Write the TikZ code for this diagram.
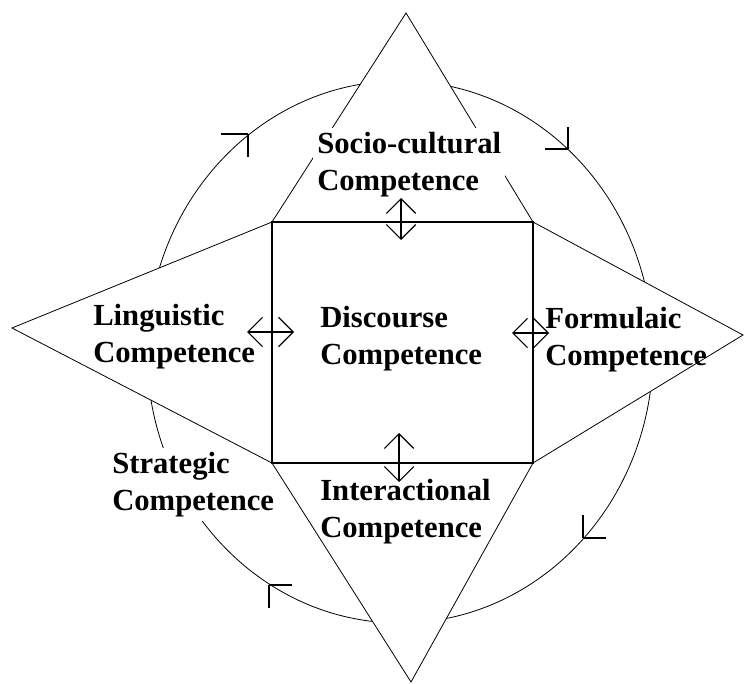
\documentclass[tikz,border=0pt]{standalone}
\usepackage{fontspec}
\setmainfont{Liberation Serif}
\usetikzlibrary{arrows.meta}
\begin{document}
\begin{tikzpicture}[x=0.75pt,y=-0.75pt,
  comp/.style={font=\bfseries\fontsize{23}{27.75}\selectfont,align=left,anchor=north west,inner sep=0},
  covered/.style={comp,fill=white,inner sep=3pt},
  twoway/.style={line width=0.8pt,{Straight Barb[length=11pt,width=22pt]}-{Straight Barb[length=11pt,width=22pt]}}]
\useasboundingbox (0,0) rectangle (745,684);
% circle with its four heads
\draw[line width=0.6pt] (400,352) ellipse [x radius=189.75pt,y radius=203.25pt];
\foreach \x/\y/\a/\b in {248/134/-27/23,568/149/-23/-22,583/538/23/-23,269/585/23/23}
  \draw[line width=1.1pt] (\x,\y) -- ++(\a,0) (\x,\y) -- ++(0,\b);
\node[covered] (strat) at (108,448) {Strategic\\Competence};
% star round the square
\coordinate (tl) at (272,222); \coordinate (tr) at (533,222);
\coordinate (br) at (533,463); \coordinate (bl) at (272,463);
\draw[fill=white,line width=0.6pt] (406,13) -- (tr) -- (743,335) -- (br) -- (411,682) -- (bl) -- (12,328) -- (tl) -- cycle;
\draw[line width=0.9pt] (tl) rectangle (br);
% texts
\node[covered] (socio) at (313,128) {Socio-cultural\\Competence};
\node[comp] (ling) at (93,304) {Linguistic\\Competence};
\node[comp] (disc) at (320,306) {Discourse\\Competence};
\node[comp] (form) at (545,307) {Formulaic\\Competence};
\node[comp] (inter) at (320,479) {Interactional\\Competence};
% two-way arrows
\coordinate (t1) at (401,198); \coordinate (t2) at (401,240);
\coordinate (l1) at (247,332); \coordinate (l2) at (294,332);
\coordinate (r1) at (512,333); \coordinate (r2) at (549,333);
\coordinate (b1) at (399,433); \coordinate (b2) at (399,482);
\draw[twoway] (t1) -- (t2);
\draw[twoway] (l1) -- (l2);
\draw[twoway] (r1) -- (r2);
\draw[twoway] (b1) -- (b2);
\end{tikzpicture}
\end{document}
